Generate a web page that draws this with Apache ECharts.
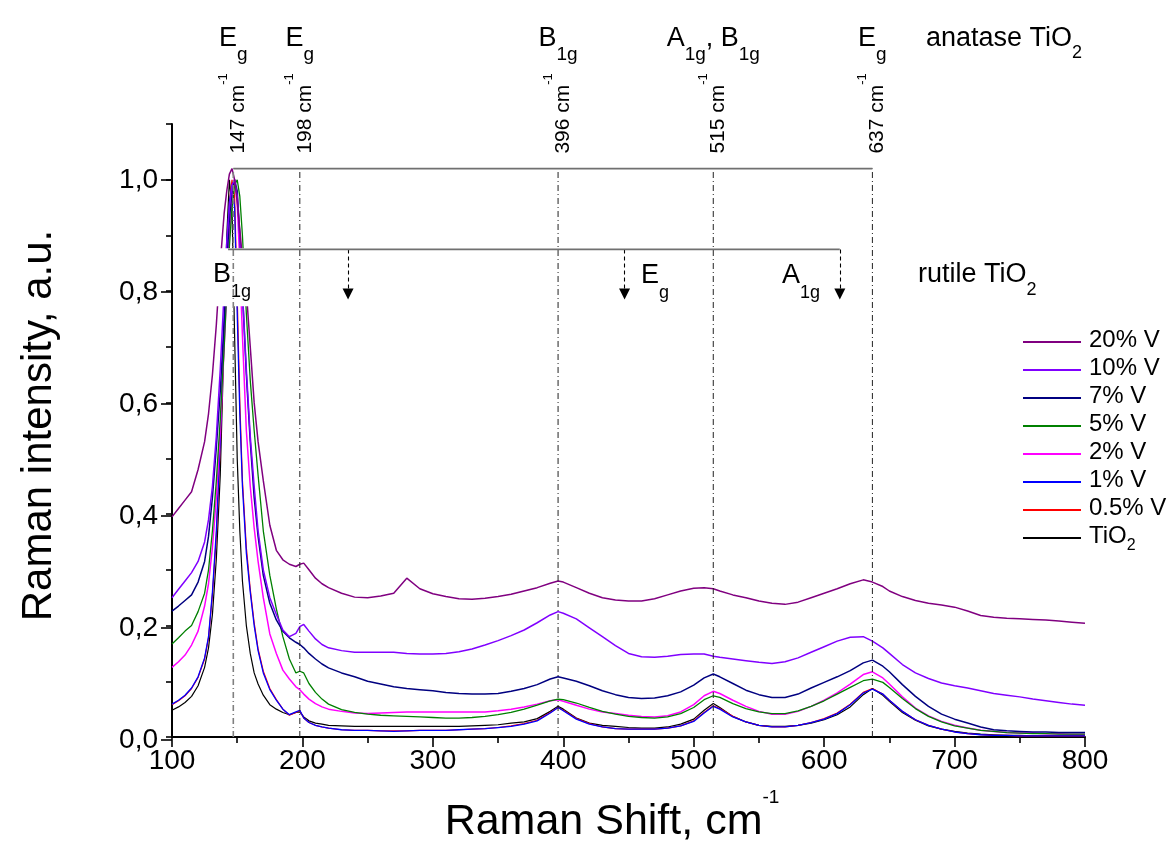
<!DOCTYPE html>
<html><head><meta charset="utf-8">
<script src="https://cdn.jsdelivr.net/npm/echarts@6/dist/echarts.min.js"></script>
<style>html,body{margin:0;padding:0;background:#fff}#c{width:1174px;height:850px}</style>
</head><body><div id="c"></div>
<script>
// ---------- data ----------
const ramanShift = [
  100,105,110,115,120,125,128,131,134,137,140,
  142,144,146,148,150,152,154,157,160,163,166,
  170,175,180,185,190,195,198,201,205,210,215,220,
  230,240,250,260,270,280,290,300,310,320,330,340,350,360,370,380,390,
  396,400,410,420,430,440,450,460,470,480,490,500,
  508,515,520,530,540,550,560,570,580,590,600,610,620,630,
  637,645,650,660,670,680,690,700,710,720,730,740,750,760,770,780,790,800
];
const tio2 = [
  0.048,0.054,0.062,0.073,0.092,0.125,0.16,0.22,0.32,0.47,0.72,
  0.9,1.0,0.95,0.72,0.5,0.37,0.28,0.2,0.15,0.115,0.095,
  0.075,0.058,0.05,0.044,0.04,0.044,0.045,0.036,0.029,0.025,0.023,0.021,
  0.02,0.019,0.019,0.019,0.019,0.019,0.019,0.019,0.019,0.019,0.02,0.021,0.022,0.025,0.027,0.033,0.046,
  0.055,0.05,0.034,0.025,0.021,0.019,0.017,0.016,0.016,0.018,0.023,0.032,
  0.048,0.06,0.053,0.037,0.027,0.021,0.019,0.019,0.021,0.025,0.031,0.04,0.054,0.076,
  0.087,0.075,0.064,0.044,0.03,0.02,0.014,0.01,0.007,0.005,0.004,0.003,0.003,0.002,0.002,0.002,0.002,0.002
];
const v05 = [
  0.058,0.065,0.074,0.087,0.107,0.14,0.178,0.255,0.36,0.52,0.73,
  0.87,0.96,1.0,0.97,0.79,0.6,0.46,0.34,0.265,0.205,0.158,
  0.118,0.087,0.067,0.05,0.039,0.044,0.047,0.034,0.026,0.021,0.018,0.016,
  0.013,0.012,0.012,0.011,0.011,0.011,0.012,0.012,0.012,0.013,0.014,0.015,0.017,0.02,0.024,0.03,0.044,
  0.053,0.048,0.033,0.024,0.018,0.015,0.014,0.014,0.014,0.016,0.02,0.029,
  0.044,0.056,0.051,0.037,0.027,0.021,0.018,0.018,0.021,0.026,0.033,0.043,0.059,0.08,
  0.087,0.077,0.066,0.046,0.031,0.021,0.014,0.009,0.006,0.004,0.003,0.003,0.002,0.002,0.002,0.002,0.002,0.002
];
const v1 = [
  0.059,0.066,0.075,0.088,0.108,0.142,0.18,0.26,0.37,0.53,0.74,
  0.88,0.96,0.99,0.95,0.76,0.58,0.45,0.33,0.26,0.2,0.155,
  0.115,0.085,0.066,0.05,0.04,0.045,0.048,0.034,0.026,0.021,0.018,0.016,
  0.013,0.012,0.012,0.011,0.01,0.011,0.012,0.012,0.012,0.013,0.014,0.015,0.017,0.019,0.023,0.029,0.043,
  0.053,0.047,0.032,0.023,0.018,0.015,0.014,0.014,0.014,0.016,0.02,0.028,
  0.043,0.055,0.05,0.036,0.027,0.021,0.018,0.018,0.021,0.026,0.032,0.042,0.058,0.079,
  0.086,0.077,0.066,0.046,0.031,0.021,0.014,0.009,0.006,0.004,0.003,0.003,0.002,0.002,0.002,0.002,0.002,0.002
];
const v2 = [
  0.125,0.135,0.147,0.165,0.19,0.235,0.275,0.34,0.43,0.55,0.7,
  0.8,0.9,0.97,1.0,0.96,0.85,0.72,0.55,0.45,0.375,0.315,
  0.25,0.185,0.15,0.12,0.104,0.09,0.085,0.077,0.068,0.06,0.054,0.05,
  0.046,0.043,0.042,0.043,0.044,0.045,0.045,0.045,0.045,0.045,0.045,0.045,0.047,0.05,0.054,0.059,0.065,
  0.067,0.064,0.057,0.05,0.045,0.042,0.039,0.037,0.036,0.038,0.045,0.058,
  0.074,0.082,0.078,0.066,0.055,0.046,0.041,0.041,0.046,0.055,0.066,0.079,0.095,0.112,
  0.117,0.106,0.095,0.072,0.052,0.038,0.028,0.021,0.016,0.012,0.01,0.008,0.007,0.007,0.006,0.006,0.005,0.005
];
const v5 = [
  0.167,0.178,0.19,0.2,0.225,0.258,0.3,0.37,0.46,0.57,0.7,
  0.8,0.88,0.95,0.99,1.0,0.97,0.9,0.76,0.64,0.55,0.47,
  0.37,0.29,0.23,0.18,0.14,0.115,0.118,0.115,0.096,0.08,0.068,0.059,
  0.049,0.044,0.041,0.039,0.038,0.037,0.036,0.035,0.034,0.034,0.035,0.037,0.04,0.044,0.05,0.057,0.065,
  0.068,0.067,0.061,0.053,0.046,0.041,0.037,0.035,0.034,0.036,0.042,0.053,
  0.067,0.074,0.071,0.06,0.051,0.045,0.042,0.042,0.047,0.055,0.065,0.077,0.089,0.101,
  0.104,0.098,0.089,0.069,0.051,0.037,0.027,0.02,0.016,0.012,0.01,0.008,0.007,0.006,0.006,0.005,0.005,0.005
];
const v7 = [
  0.226,0.235,0.245,0.255,0.278,0.315,0.36,0.43,0.52,0.62,0.75,
  0.85,0.93,0.98,1.0,0.98,0.9,0.8,0.65,0.53,0.43,0.36,
  0.29,0.24,0.21,0.19,0.178,0.17,0.166,0.16,0.15,0.14,0.131,0.124,
  0.115,0.108,0.1,0.095,0.09,0.087,0.085,0.083,0.08,0.078,0.077,0.077,0.078,0.082,0.087,0.094,0.104,
  0.108,0.106,0.1,0.092,0.083,0.076,0.071,0.069,0.07,0.074,0.081,0.093,
  0.106,0.113,0.108,0.096,0.084,0.076,0.071,0.071,0.077,0.088,0.098,0.108,0.119,0.133,
  0.138,0.127,0.117,0.094,0.073,0.055,0.041,0.032,0.025,0.018,0.013,0.011,0.01,0.009,0.009,0.008,0.008,0.008
];
const v10 = [
  0.25,0.265,0.28,0.295,0.315,0.35,0.39,0.45,0.54,0.66,0.8,
  0.89,0.95,0.99,1.0,0.97,0.9,0.8,0.66,0.54,0.45,0.37,
  0.3,0.25,0.22,0.192,0.18,0.186,0.198,0.202,0.19,0.176,0.166,0.16,
  0.155,0.152,0.152,0.152,0.152,0.15,0.149,0.149,0.15,0.153,0.158,0.165,0.173,0.182,0.192,0.205,0.219,
  0.225,0.222,0.212,0.196,0.18,0.164,0.15,0.144,0.143,0.145,0.148,0.149,
  0.149,0.145,0.143,0.14,0.137,0.134,0.132,0.135,0.142,0.152,0.162,0.172,0.179,0.18,
  0.172,0.16,0.15,0.13,0.115,0.105,0.097,0.092,0.088,0.083,0.078,0.075,0.072,0.068,0.065,0.062,0.059,0.057
];
const v20 = [
  0.395,0.41,0.425,0.44,0.48,0.53,0.58,0.65,0.74,0.85,0.94,
  0.98,1.01,1.02,1.0,0.96,0.91,0.86,0.8,0.7,0.6,0.53,
  0.46,0.38,0.335,0.318,0.31,0.306,0.31,0.312,0.3,0.285,0.275,0.268,
  0.258,0.251,0.25,0.253,0.258,0.285,0.266,0.257,0.252,0.248,0.247,0.249,0.252,0.256,0.262,0.268,0.276,
  0.28,0.278,0.268,0.258,0.25,0.246,0.244,0.244,0.248,0.255,0.262,0.267,
  0.268,0.266,0.262,0.255,0.25,0.244,0.24,0.238,0.242,0.25,0.258,0.266,0.275,0.282,
  0.278,0.27,0.262,0.252,0.245,0.24,0.237,0.233,0.226,0.218,0.215,0.213,0.212,0.211,0.21,0.208,0.206,0.204
];
const seriesNames = ['20% V','10% V','7% V','5% V','2% V','1% V','0.5% V','TiO2'];
const seriesValues = [v20, v10, v7, v5, v2, v1, v05, tio2];
const seriesColors = ['#800080','#8000ff','#000080','#008000','#ff00ff','#0000ff','#ff0000','#000000'];
const seriesWidths = [1.5, 1.5, 1.5, 1.3, 1.5, 1.3, 1.2, 1.2];
const drawOrder = ['TiO2','0.5% V','1% V','2% V','5% V','7% V','10% V','20% V'];

// annotation data (wavenumbers, cm-1)
const anatasePeaks = [147, 198, 396, 515, 637];
const anataseModes = ['{m|E}{s|g}', '{m|E}{s|g}', '{m|B}{s|1g}', '{m|A}{s|1g}{m|, B}{s|1g}', '{m|E}{s|g}'];
const anataseLineY = 1.02;
const rutileStart = 143, rutileEnd = 612, rutileLineY = 0.875;
const rutileArrows = [235, 447, 612];
const rutileArrowEndY = 0.795;
const rutileModes = [{x: 125.3, text: '{m|B}{s|1g}', bg: true}, {x: 459.6, text: '{m|E}{s|g}'}, {x: 567.7, text: '{m|A}{s|1g}'}];
const yTicks = [0, 0.2, 0.4, 0.6, 0.8, 1.0];

// ---------- chart ----------
const F = '"Liberation Sans", Arial, sans-serif';
const chart = echarts.init(document.getElementById('c'), null, {renderer: 'canvas'});

const lineSeries = drawOrder.map(name => {
  const i = seriesNames.indexOf(name);
  return {
    name, type: 'line', xAxisIndex: 0, yAxisIndex: 0, symbol: 'none', smooth: false, z: 2,
    color: seriesColors[i], lineStyle: {width: seriesWidths[i], color: seriesColors[i]},
    data: ramanShift.map((x, k) => [x, seriesValues[i][k]]), animation: false, silent: true
  };
});

const annoLine = (data, style, z) => ({type: 'line', xAxisIndex: 0, yAxisIndex: 0, symbol: 'none', z: z || 10, silent: true,
  animation: false, data, lineStyle: style});

const vlines = anatasePeaks.map((x, i) => annoLine([[x, 0], [x, anataseLineY]],
  {color: i === 0 ? '#808080' : '#222', width: i === 0 ? 1.6 : 1, type: [6, 3, 1, 3]}));
const hAnatase = annoLine([[anatasePeaks[0], anataseLineY], [anatasePeaks[anatasePeaks.length - 1], anataseLineY]], {color: '#707070', width: 1.6});
const hRutile = annoLine([[rutileStart, rutileLineY], [rutileEnd, rutileLineY]], {color: '#707070', width: 1.6});

const arrows = {
  type: 'lines', coordinateSystem: 'cartesian2d', xAxisIndex: 0, yAxisIndex: 0, z: 10, silent: true, animation: false,
  symbol: ['none', 'triangle'], symbolSize: 11,
  lineStyle: {color: '#000', width: 1.1, type: [4, 3], opacity: 1},
  data: rutileArrows.map(x => ({coords: [[x, rutileLineY], [x, rutileArrowEndY]]}))
};

const richTop = {
  m: {fontSize: 27, fontFamily: F, color: '#000', height: 30, lineHeight: 43, verticalAlign: 'top'},
  s: {fontSize: 19, fontFamily: F, color: '#000', height: 22, lineHeight: 22, verticalAlign: 'bottom'}
};
const richRot = {
  m: {fontSize: 21, fontFamily: F, color: '#000', height: 24, lineHeight: 34, verticalAlign: 'bottom'},
  p: {fontSize: 13, fontFamily: F, color: '#000', height: 14, lineHeight: 14, verticalAlign: 'top'}
};
const richRut = {
  m: {fontSize: 27, fontFamily: F, color: '#000', height: 30, lineHeight: 44, verticalAlign: 'top'},
  s: {fontSize: 18, fontFamily: F, color: '#000', height: 22, lineHeight: 22, verticalAlign: 'bottom'}
};
const richTxt = {
  m: {fontSize: 27, fontFamily: F, color: '#000', height: 30, lineHeight: 40, verticalAlign: 'top'},
  s: {fontSize: 18, fontFamily: F, color: '#000', height: 20, lineHeight: 20, verticalAlign: 'bottom'}
};
const topOffsets = [-3, -2.5, 6, 5, 5];
const rotOffsets = [-3, -1.5, -1.5, 2, 4];

const labelData = [];
anatasePeaks.forEach((x, i) => {
  labelData.push({value: [x, 1.2423], label: {show: true, position: 'inside', offset: [topOffsets[i], 0],
    formatter: anataseModes[i], rich: richTop}});
  labelData.push({value: [x, 1.119], label: {show: true, position: 'inside', rotate: 90, offset: [rotOffsets[i], 0],
    formatter: '{m|' + x + ' cm}{p|-1}', rich: richRot}});
});
rutileModes.forEach(r => {
  labelData.push({value: [r.x, r.bg ? 0.825 : 0.816], label: {show: true, position: 'right', distance: 0,
    formatter: r.text, rich: richRut,
    backgroundColor: r.bg ? '#ffffff' : 'transparent', padding: r.bg ? [11, 4, 3, 8] : 0}});
});
labelData.push({value: [678, 1.245], label: {show: true, position: 'right', distance: 0, formatter: '{m|anatase TiO}{s|2}', rich: richTxt}});
labelData.push({value: [672, 0.82], label: {show: true, position: 'right', distance: 0, formatter: '{m|rutile TiO}{s|2}', rich: richTxt}});

const labels = {type: 'scatter', xAxisIndex: 0, yAxisIndex: 0, symbol: 'circle', symbolSize: 0, z: 8, clip: false, silent: true,
  animation: false, data: labelData, itemStyle: {color: '#000', opacity: 1},
  label: {show: true, color: '#000', opacity: 1, textBorderWidth: 0},
  labelLayout: {hideOverlap: false}};

const option = {
  animation: false,
  backgroundColor: '#fff',
  grid: [
    {left: 172, right: 89, top: 124, bottom: 110},
    {left: 172, right: 89, top: 180, bottom: 110}
  ],
  legend: {
    data: seriesNames, orient: 'vertical', left: 1018, top: 322, itemWidth: 58, itemHeight: 2, itemGap: 2,
    icon: 'rect', selectedMode: false,
    formatter: n => n === 'TiO2' ? '{a|TiO}{b|2}' : '{a|' + n + '}',
    textStyle: {padding: [0, 0, 0, 3], rich: {
      a: {fontSize: 24, fontFamily: F, color: '#000', height: 26, lineHeight: 30, verticalAlign: 'top'},
      b: {fontSize: 16, fontFamily: F, color: '#000', height: 14, lineHeight: 14, verticalAlign: 'bottom'}
    }}
  },
  xAxis: [{
    type: 'value', gridIndex: 0, min: 100, max: 800, interval: 100,
    axisLine: {lineStyle: {color: '#000', width: 2}},
    axisTick: {length: 10, lineStyle: {color: '#000', width: 1.6}},
    minorTick: {show: true, splitNumber: 2, length: 6, lineStyle: {color: '#000', width: 1.6}},
    axisLabel: {fontSize: 28, fontFamily: F, color: '#000', margin: 10},
    splitLine: {show: false},
    name: '{m|Raman Shift, cm}{p|-1}', nameLocation: 'middle', nameGap: 50,
    nameTextStyle: {padding: [0, 33, 0, 0], rich: {
      m: {fontSize: 43, fontFamily: F, color: '#000', height: 46, lineHeight: 58, verticalAlign: 'bottom'},
      p: {fontSize: 19, fontFamily: F, color: '#000', height: 22, lineHeight: 22, verticalAlign: 'top'}
    }}
  }, {
    type: 'value', gridIndex: 1, min: 100, max: 800, show: false
  }],
  yAxis: [{
    type: 'value', gridIndex: 0, min: 0, max: 1.1, interval: 0.1,
    axisLine: {show: true, lineStyle: {color: '#000', width: 2}},
    axisTick: {show: true, length: 6, lineStyle: {color: '#000', width: 1.6}},
    axisLabel: {show: false},
    splitLine: {show: false},
    name: 'Raman intensity, a.u.', nameLocation: 'middle', nameGap: 112,
    nameTextStyle: {fontSize: 42, fontFamily: F, color: '#000', padding: [0, 0, 0, 10]}
  }, {
    type: 'value', gridIndex: 1, min: 0, max: 1.0, interval: 0.2,
    axisLine: {show: false},
    axisTick: {show: true, length: 11, lineStyle: {color: '#000', width: 1.6}},
    axisLabel: {fontSize: 28, fontFamily: F, color: '#000', margin: 14,
      formatter: v => yTicks.some(t => Math.abs(t - v) < 1e-6) ? v.toFixed(1).replace('.', ',') : ''},
    splitLine: {show: false}
  }],
  series: [...lineSeries, ...vlines, hAnatase, hRutile, arrows, labels]
};
chart.setOption(option);
</script>
</body></html>
